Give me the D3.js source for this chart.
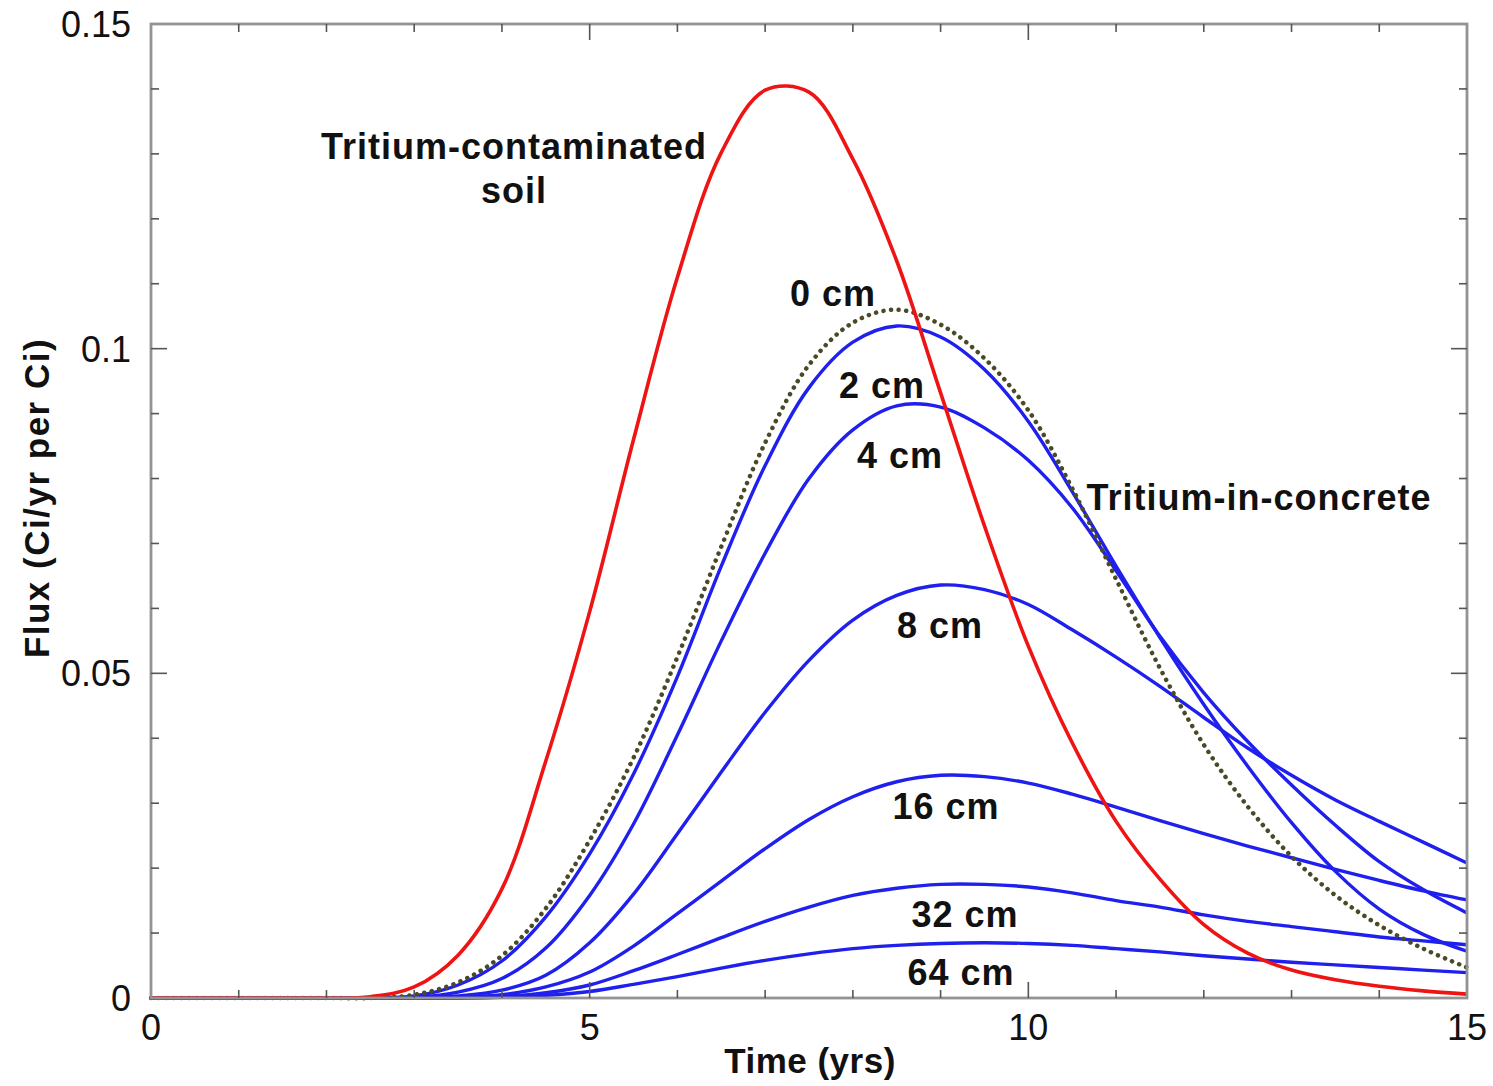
<!DOCTYPE html>
<html>
<head>
<meta charset="UTF-8">
<title>Tritium flux</title>
<script src="https://d3js.org/d3.v7.min.js"></script>
<style>
  body { margin: 0; background: #fff; }
  text { font-family: "Liberation Sans", Arial, Helvetica, sans-serif; fill: #111; }
  .lbl { font-weight: bold; font-size: 36px; letter-spacing: 1px; }
  .tick-lbl { font-size: 36px; }
</style>
</head>
<body>
<svg width="1493" height="1086"></svg>
<script>
// time grid (yrs)
var years = [0,0.5,1,1.5,2,2.5,3,3.5,4,4.5,5,5.5,6,6.5,7,7.5,8,8.5,9,9.5,10,10.5,11,11.5,12,12.5,13,13.5,14,14.5,15];

// flux (Ci/yr per Ci)
var soil = [0,0,0,0,0,0.0002,0.0017,0.0066,0.0168,0.0365,0.0595,0.0860,0.1110,0.1302,0.1398,0.1395,0.1292,0.1135,0.0932,0.0727,0.0542,0.0393,0.0272,0.0183,0.0113,0.0069,0.0043,0.0028,0.0018,0.0011,0.0006];
var cm0 = [0,0,0,0,0,0,0.0005,0.0024,0.0065,0.0138,0.0243,0.0370,0.0525,0.0695,0.0855,0.0975,0.1040,0.1060,0.1037,0.0985,0.0905,0.0785,0.0645,0.0508,0.0390,0.0295,0.0218,0.0158,0.0112,0.0076,0.0047];
var cm2 = [0,0,0,0,0,0,0.0003,0.0020,0.0057,0.0125,0.0222,0.0345,0.0495,0.0665,0.0820,0.0940,0.1010,0.1035,0.1018,0.0968,0.0888,0.0780,0.0665,0.0555,0.0452,0.0357,0.0270,0.0195,0.0137,0.0098,0.0072];
var cm4 = [0,0,0,0,0,0,0.0001,0.0009,0.0030,0.0077,0.0158,0.0268,0.0405,0.0550,0.0685,0.0800,0.0875,0.0912,0.0910,0.0878,0.0828,0.0755,0.0658,0.0557,0.0470,0.0395,0.0328,0.0266,0.0210,0.0167,0.0131];
var cm8 = [0,0,0,0,0,0,0,0.0003,0.0012,0.0035,0.0085,0.0160,0.0253,0.0348,0.0440,0.0520,0.0582,0.0620,0.0636,0.0629,0.0606,0.0567,0.0525,0.0480,0.0432,0.0385,0.0343,0.0305,0.0272,0.0240,0.0208];
var cm16 = [0,0,0,0,0,0,0,0.0001,0.0005,0.0017,0.0040,0.0080,0.0130,0.0180,0.0230,0.0275,0.0310,0.0333,0.0343,0.0341,0.0331,0.0314,0.0294,0.0273,0.0253,0.0234,0.0216,0.0198,0.0181,0.0165,0.0151];
var cm32 = [0,0,0,0,0,0,0,0,0.0002,0.0008,0.0020,0.0042,0.0067,0.0093,0.0118,0.014,0.0158,0.0169,0.0175,0.0175,0.0171,0.0162,0.015,0.014,0.0128,0.0118,0.011,0.0102,0.0094,0.0088,0.0082];
var cm64 = [0,0,0,0,0,0,0,0,0.0001,0.0004,0.0010,0.0021,0.0033,0.0046,0.0058,0.0068,0.0076,0.0081,0.0084,0.0085,0.0084,0.0081,0.0076,0.0071,0.0065,0.006,0.0055,0.0051,0.0047,0.0043,0.0039];

var xMajor = [0, 5, 10, 15];
var yMajor = [0, 0.05, 0.1, 0.15];
var yTickText = ['0', '0.05', '0.1', '0.15'];

var svg = d3.select('svg');
var x0 = 151, x1 = 1467, y0 = 998, y1 = 24;
var x = d3.scaleLinear().domain([0, 15]).range([x0, x1]);
var y = d3.scaleLinear().domain([0, 0.15]).range([y0, y1]);

var line = d3.line()
    .x(function(d, i) { return x(years[i]); })
    .y(function(d) { return y(d); })
    .curve(d3.curveCatmullRom.alpha(0.5));

var g = svg.append('g');

// blue depth curves
[cm64, cm32, cm16, cm8, cm4, cm2].forEach(function(s) {
    g.append('path').attr('d', line(s))
        .attr('fill', 'none').attr('stroke', '#1f1fee').attr('stroke-width', 3.4);
});
// 0 cm dotted
g.append('path').attr('d', line(cm0))
    .attr('fill', 'none').attr('stroke', '#4a4a26').attr('stroke-width', 4.5)
    .attr('stroke-dasharray', '0.1,7.5').attr('stroke-linecap', 'round');
// soil
g.append('path').attr('d', line(soil))
    .attr('fill', 'none').attr('stroke', '#ee1414').attr('stroke-width', 3.6);

// frame
svg.append('rect').attr('x', x0).attr('y', y1)
    .attr('width', x1 - x0).attr('height', y0 - y1)
    .attr('fill', 'none').attr('stroke', '#939393').attr('stroke-width', 2.8);

// ticks on all sides, pointing inward
var tk = svg.append('g').attr('stroke', '#555').attr('stroke-width', 1.6);
d3.range(1, 15).forEach(function(v) {
    var len = v % 5 === 0 ? 16 : 8;
    tk.append('line').attr('x1', x(v)).attr('x2', x(v)).attr('y1', y0).attr('y2', y0 - len);
    tk.append('line').attr('x1', x(v)).attr('x2', x(v)).attr('y1', y1).attr('y2', y1 + len);
});
d3.range(1, 15).forEach(function(k) {
    var v = k / 100;
    var len = k % 5 === 0 ? 16 : 8;
    tk.append('line').attr('y1', y(v)).attr('y2', y(v)).attr('x1', x0).attr('x2', x0 + len);
    tk.append('line').attr('y1', y(v)).attr('y2', y(v)).attr('x1', x1).attr('x2', x1 - len);
});

// tick labels
svg.selectAll('.xt').data(xMajor).enter().append('text')
    .attr('class', 'tick-lbl')
    .attr('x', function(d) { return x(d); })
    .attr('y', 1040)
    .attr('text-anchor', 'middle')
    .text(function(d) { return d; });
svg.selectAll('.yt').data(yMajor).enter().append('text')
    .attr('class', 'tick-lbl')
    .attr('x', 131)
    .attr('y', function(d) { return y(d) + 13; })
    .attr('text-anchor', 'end')
    .text(function(d, i) { return yTickText[i]; });

// axis titles
svg.append('text').attr('class', 'lbl').style('font-size', '35px').style('letter-spacing', '0.5px')
    .attr('x', 810).attr('y', 1073).attr('text-anchor', 'middle').text('Time (yrs)');
svg.append('text').attr('class', 'lbl').style('font-size', '35px').style('letter-spacing', '1.5px')
    .attr('transform', 'translate(49,498) rotate(-90)')
    .attr('text-anchor', 'middle').text('Flux (Ci/yr per Ci)');

// curve labels
var labels = [
    ['Tritium-contaminated', 514, 159],
    ['soil', 514, 203],
    ['0 cm', 833, 306],
    ['2 cm', 882, 398],
    ['4 cm', 900, 468],
    ['8 cm', 940, 638],
    ['16 cm', 946, 819],
    ['32 cm', 965, 927],
    ['64 cm', 961, 985],
    ['Tritium-in-concrete', 1259, 510]
];
svg.selectAll('.cl').data(labels).enter().append('text')
    .attr('class', 'lbl')
    .attr('x', function(d) { return d[1]; })
    .attr('y', function(d) { return d[2]; })
    .attr('text-anchor', 'middle')
    .text(function(d) { return d[0]; });
</script>
</body>
</html>
